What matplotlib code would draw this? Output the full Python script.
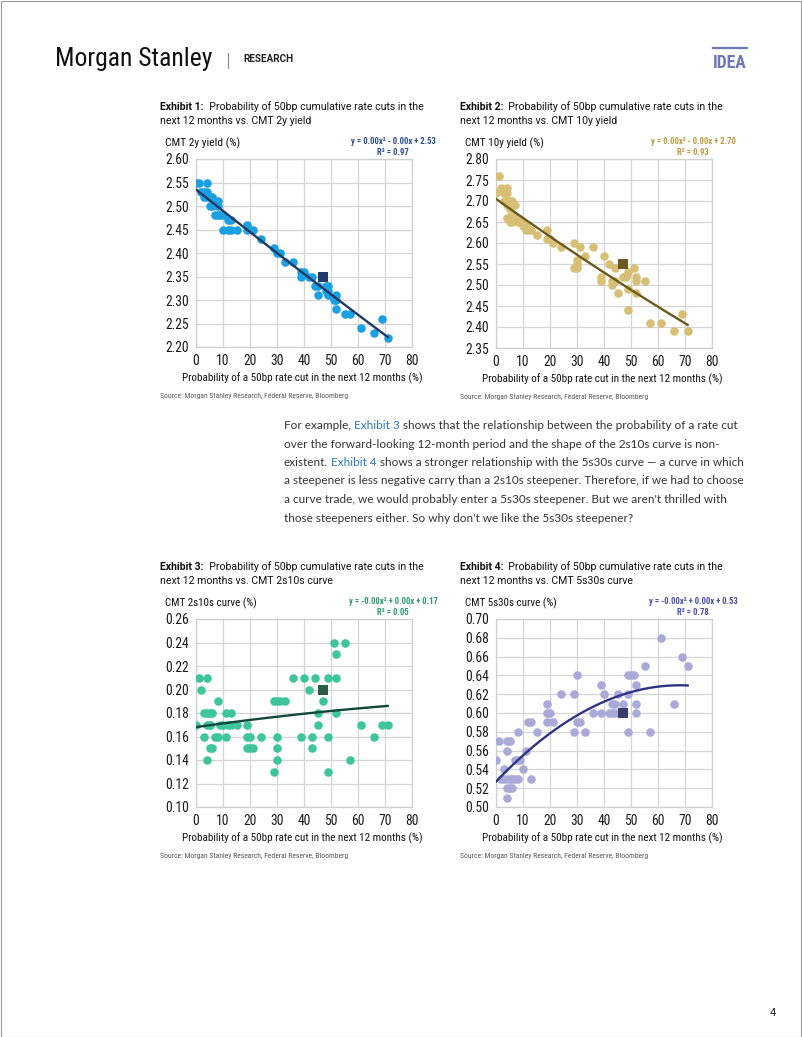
import os
import numpy as np
import matplotlib
matplotlib.use('Agg')
import matplotlib.pyplot as plt
from matplotlib import font_manager as fm
from matplotlib.font_manager import FontProperties

W, H = 802, 1037

# Exhibit 1: CMT 2y yield
x1 = [0, 1, 4, 2, 3, 4, 3, 4, 5, 6, 7, 5, 6, 8, 8, 7, 8, 9, 10, 12, 13, 10, 12, 13, 15,
      19, 19, 21, 24, 29, 30, 31, 33, 36, 39, 40, 39, 42, 43, 44, 45, 45, 48, 49, 49, 48, 49,
      51, 52, 52, 52, 55, 57, 61, 66, 69, 71]
y1 = [2.55, 2.55, 2.55, 2.53, 2.53, 2.53, 2.52, 2.52, 2.52, 2.52, 2.51, 2.50, 2.50, 2.51, 2.50,
      2.48, 2.48, 2.48, 2.48, 2.47, 2.47, 2.45, 2.45, 2.45, 2.45, 2.46, 2.45, 2.45, 2.43,
      2.41, 2.40, 2.40, 2.38, 2.38, 2.36, 2.36, 2.35, 2.35, 2.35, 2.33, 2.33, 2.31,
      2.33, 2.33, 2.32, 2.32, 2.31, 2.30, 2.31, 2.30, 2.28, 2.27, 2.27, 2.24, 2.23, 2.26, 2.22]

# Exhibit 2: CMT 10y yield
x2 = [0, 1, 2, 3, 4, 4, 3, 4, 5, 4, 6, 7, 5, 6, 4, 5, 6, 7, 8, 8, 9, 10, 10, 11,
      11, 12, 13, 15, 19, 19, 20, 21, 24, 29, 31, 30, 30, 29, 30, 33, 36, 40, 42, 44,
      39, 39, 43, 43, 44, 45, 47, 48, 49, 51, 52, 52, 52, 55, 49, 49, 57, 61, 66, 69, 71]
y2 = [2.72, 2.76, 2.73, 2.72, 2.73, 2.72, 2.70, 2.70, 2.70, 2.69, 2.70, 2.69, 2.68, 2.67,
      2.66, 2.65, 2.65, 2.66, 2.66, 2.65, 2.65, 2.65, 2.64, 2.64, 2.63, 2.63, 2.63, 2.62,
      2.63, 2.61, 2.61, 2.60, 2.59, 2.60, 2.59, 2.56, 2.55, 2.54, 2.54, 2.57, 2.59,
      2.57, 2.55, 2.54, 2.52, 2.51, 2.51, 2.50, 2.51, 2.48, 2.52, 2.52, 2.53, 2.54,
      2.52, 2.51, 2.48, 2.51, 2.49, 2.44, 2.41, 2.41, 2.39, 2.43, 2.39]

# Exhibit 3: CMT 2s10s curve
x3 = [0, 1, 4, 2, 3, 4, 5, 6, 8, 3, 4, 5, 5, 4, 5, 6, 7, 8, 9, 10, 11, 13, 11, 12, 13, 15,
      19, 19, 20, 19, 20, 21, 24, 29, 30, 31, 33, 30, 30, 30, 29, 36, 40, 44, 49, 52, 42,
      47, 45, 52, 45, 39, 43, 49, 43, 49, 51, 55, 52, 61, 69, 71, 66, 57]
y3 = [0.17, 0.21, 0.21, 0.20, 0.18, 0.18, 0.18, 0.18, 0.19, 0.16, 0.17, 0.17, 0.17, 0.14,
      0.15, 0.15, 0.16, 0.16, 0.17, 0.17, 0.18, 0.18, 0.16, 0.17, 0.17, 0.17, 0.17, 0.16,
      0.16, 0.15, 0.15, 0.15, 0.16, 0.19, 0.19, 0.19, 0.19, 0.16, 0.15, 0.14, 0.13,
      0.21, 0.21, 0.21, 0.21, 0.21, 0.20, 0.19, 0.18, 0.18, 0.17, 0.16, 0.16, 0.16, 0.15,
      0.13, 0.24, 0.24, 0.23, 0.17, 0.17, 0.17, 0.16, 0.14]

# Exhibit 4: CMT 5s30s curve
x4 = [0, 1, 4, 5, 4, 3, 2, 3, 4, 5, 6, 7, 8, 4, 5, 6, 4, 8, 7, 8, 9, 10, 11, 13, 12, 13, 15,
      19, 19, 20, 19, 21, 24, 29, 30, 29, 30, 31, 33, 36, 39, 39, 40,
      42, 43, 43, 44, 44, 45, 46, 47, 49, 50, 51, 52, 49, 52, 52, 49, 57, 55, 61, 66, 69, 71]
y4 = [0.55, 0.57, 0.57, 0.57, 0.56, 0.54, 0.53, 0.53, 0.53, 0.53, 0.53, 0.53, 0.53,
      0.52, 0.52, 0.52, 0.51, 0.58, 0.55, 0.55, 0.55, 0.54, 0.56, 0.53, 0.59, 0.59, 0.58,
      0.61, 0.60, 0.60, 0.59, 0.59, 0.62, 0.62, 0.64, 0.58, 0.59, 0.59, 0.58,
      0.60, 0.60, 0.63, 0.62, 0.60, 0.60, 0.61, 0.61, 0.60, 0.62, 0.60, 0.61,
      0.64, 0.64, 0.64, 0.63, 0.62, 0.61, 0.60, 0.58, 0.58, 0.65, 0.68, 0.61, 0.66, 0.65]

# latest observation (square marker)
last_x = 47
last_y = [2.35, 2.55, 0.20, 0.60]

# quadratic trendlines (a, b, c) as drawn in the exhibits
trend1 = [0.000002, -0.00456, 2.535]
trend2 = [0.000005, -0.00458, 2.705]
trend3 = [-0.000001, 0.000325, 0.168]
trend4 = [-0.0000221, 0.00301, 0.527]

xticks = [0, 10, 20, 30, 40, 50, 60, 70, 80]
yt1 = [2.20, 2.25, 2.30, 2.35, 2.40, 2.45, 2.50, 2.55, 2.60]
yt2 = [2.35, 2.40, 2.45, 2.50, 2.55, 2.60, 2.65, 2.70, 2.75, 2.80]
yt3 = [0.10, 0.12, 0.14, 0.16, 0.18, 0.20, 0.22, 0.24, 0.26]
yt4 = [0.50, 0.52, 0.54, 0.56, 0.58, 0.60, 0.62, 0.64, 0.66, 0.68, 0.70]

titles = ['CMT 2y yield', 'CMT 10y yield', 'CMT 2s10s curve', 'CMT 5s30s curve']
ylabels = ['CMT 2y yield (%)', 'CMT 10y yield (%)', 'CMT 2s10s curve (%)', 'CMT 5s30s curve (%)']
equations = ['y = 0.00x² - 0.00x + 2.53', 'y = 0.00x² - 0.00x + 2.70',
             'y = -0.00x² + 0.00x + 0.17', 'y = -0.00x² + 0.00x + 0.53']
r2 = ['R² = 0.97', 'R² = 0.93', 'R² = 0.05', 'R² = 0.78']


# ---- fonts ----
def font_path(*names):
    files = {os.path.basename(f.fname): f.fname for f in fm.fontManager.ttflist}
    for n in names:
        if n in files:
            return files[n]
    return None


narrow_file = font_path('RobotoCondensed-Regular.ttf', 'LiberationSansNarrow-Regular.ttf',
                        'DejaVuSansCondensed.ttf')
narrow_bold_file = font_path('RobotoCondensed-Bold.ttf', 'LiberationSansNarrow-Bold.ttf',
                             'DejaVuSansCondensed-Bold.ttf')


def narrow(bold=False):
    f = narrow_bold_file if bold else narrow_file
    if f:
        return FontProperties(fname=f)
    return FontProperties(family='Roboto', weight='bold' if bold else 'normal')


roboto = FontProperties(family='Roboto')
roboto_b = FontProperties(family='Roboto', weight='bold')
lato = FontProperties(family='Lato')

fig = plt.figure(figsize=(W / 100, H / 100), dpi=100)
renderer = fig.canvas.get_renderer()


def put(x, y, s, size, prop, width=None, **kw):
    kw.setdefault('va', 'center')
    t = fig.text(x / W, 1 - y / H, s, fontproperties=prop, fontsize=size, **kw)
    if width:
        bb = t.get_window_extent(renderer)
        t.set_fontsize(size * width / bb.width)
    return t


def put_runs(x, y, runs, size, prop):
    # runs of (text, colour) side by side on one baseline
    for s, col in runs:
        t = fig.text(x / W, 1 - y / H, s, fontproperties=prop, fontsize=size, color=col,
                     va='baseline')
        x += t.get_window_extent(renderer).width
    return x


# ---- page frame and header ----
fig.add_artist(plt.Rectangle((0.5 / W, 0.5 / H), 1 - 1.5 / W, 1 - 1.5 / H,
                             transform=fig.transFigure, fill=False, ec='#9a9a9a', lw=0.8))
put(55, 66, 'Morgan Stanley', 20, narrow(), width=157, va='baseline', color='#111111')
fig.add_artist(plt.Line2D([228 / W, 228 / W], [1 - 52.5 / H, 1 - 67.5 / H],
                          color='#8a8a8a', lw=0.8))
put(243, 62, 'RESEARCH', 6.5, roboto_b, width=50, va='baseline', color='#222222')
fig.add_artist(plt.Line2D([713 / W, 747 / W], [1 - 47.5 / H, 1 - 47.5 / H],
                          color='#6f78b6', lw=1.6))
put(713, 67.5, 'IDEA', 11, narrow(True), width=34, va='baseline', color='#6f78b6')

# ---- exhibits ----
panels = [
    dict(x=x1, y=y1, yt=yt1, trend=trend1, rect=(196, 159, 412, 347), left=160, top=106,
         dot='#1ba0e2', line='#1f3864', sq='#203a6c', eq='#2b4b8c'),
    dict(x=x2, y=y2, yt=yt2, trend=trend2, rect=(496, 159, 712, 348), left=460, top=106,
         dot='#d7bf76', line='#6c5a1c', sq='#6c5822', eq='#b99b3e'),
    dict(x=x3, y=y3, yt=yt3, trend=trend3, rect=(196, 619, 412, 807), left=160, top=566,
         dot='#3ec59c', line='#11473a', sq='#2d5c44', eq='#2a9b6b'),
    dict(x=x4, y=y4, yt=yt4, trend=trend4, rect=(496, 619, 712, 807), left=460, top=566,
         dot='#aaaad9', line='#2f3582', sq='#3c3c6c', eq='#4b4ba3'),
]

for i, p in enumerate(panels):
    l, t, r, b = p['rect']
    ax = fig.add_axes([l / W, 1 - b / H, (r - l) / W, (b - t) / H])
    ax.scatter(p['x'], p['y'], s=38, color=p['dot'], linewidths=0, zorder=3)
    xs = np.linspace(min(p['x']), max(p['x']), 200)
    ax.plot(xs, np.polyval(p['trend'], xs), color=p['line'], lw=1.7, zorder=4)
    ax.scatter([last_x], [last_y[i]], s=42, marker='s', color=p['sq'], linewidths=0, zorder=5)

    ax.set_xlim(0, 80)
    ax.set_ylim(p['yt'][0], p['yt'][-1])
    ax.set_xticks(xticks)
    ax.set_yticks(p['yt'])
    ax.set_xticklabels([str(v) for v in xticks])
    ax.set_yticklabels([f'{v:.2f}' for v in p['yt']])
    ax.grid(True, color='#d4d4d4', lw=0.9)
    ax.set_axisbelow(True)
    for sp in ax.spines.values():
        sp.set_color('#cfcfcf')
        sp.set_linewidth(0.9)
    ax.tick_params(length=0, pad=5, colors='#1a1a1a')
    for lab in ax.get_xticklabels() + ax.get_yticklabels():
        lab.set_fontproperties(narrow())
        lab.set_fontsize(9.8)

    lx = p['left']
    # exhibit title
    end = put_runs(lx, p['top'] + 3.5, [(f'Exhibit {i + 1}:', '#111111')], 7.6, roboto_b)
    put_runs(end, p['top'] + 3.5,
             [('  Probability of 50bp cumulative rate cuts in the', '#111111')], 7.6, roboto)
    put_runs(lx, p['top'] + 17.5, [(f'next 12 months vs. {titles[i]}', '#111111')], 7.6, roboto)

    # axis captions and regression text
    cap_w = [75, 79, 91, 91][i]
    put(lx + 5, t - 16, ylabels[i], 8.5, narrow(), width=cap_w, color='#111111')
    cx = r - 19
    put(cx, t - 18, equations[i], 6.2, narrow(True), ha='center', color=p['eq'])
    put(cx, t - 6.5, r2[i], 6.2, narrow(True), ha='center', color=p['eq'])
    put((l + r) / 2 - 2, b + 31, 'Probability of a 50bp rate cut in the next 12 months (%)',
        8, narrow(), width=240, ha='center', color='#111111')
    put(lx, b + 49, 'Source: Morgan Stanley Research, Federal Reserve, Bloomberg',
        5, narrow(), width=190, color='#555555')

# ---- body text ----
body = [
    [('For example,', '#333333'), (' Exhibit 3', '#2b78b8'),
     (' shows that the relationship between the probability of a rate cut', '#333333')],
    [('over the forward-looking 12-month period and the shape of the 2s10s curve is non-',
      '#333333')],
    [('existent.', '#333333'), (' Exhibit 4', '#2b78b8'),
     (' shows a stronger relationship with the 5s30s curve — a curve in which', '#333333')],
    [('a steepener is less negative carry than a 2s10s steepener. Therefore, if we had to choose',
      '#333333')],
    [('a curve trade, we would probably enter a 5s30s steepener. But we aren\'t thrilled with',
      '#333333')],
    [('those steepeners either. So why don\'t we like the 5s30s steepener?', '#333333')],
]
probe = fig.text(0, 0, ''.join(s for s, _ in body[0]), fontproperties=lato, fontsize=9)
body_size = 9 * 454 / probe.get_window_extent(renderer).width
probe.remove()
for k, runs in enumerate(body):
    put_runs(284, 429 + k * 18.5, runs, body_size, lato)

put(770, 1013, '4', 8, roboto, color='#222222')

fig.savefig('out.png', dpi=100)
